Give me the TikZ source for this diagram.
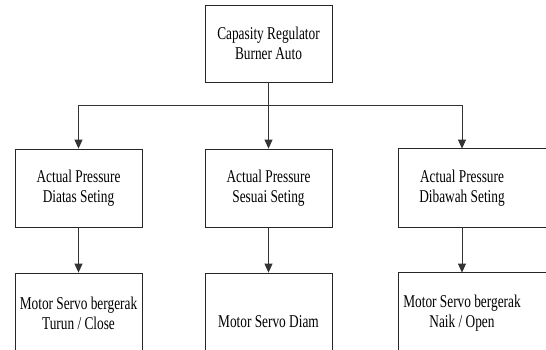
\documentclass[tikz,border=0pt]{standalone}
\usepackage{fontspec}
\setmainfont{Liberation Serif}[FakeStretch=0.74]
\usetikzlibrary{arrows.meta,calc}
\begin{document}
\begin{tikzpicture}[x=1pt,y=-1pt,
  box/.style={draw=black!85, line width=0.8pt, minimum width=127pt, align=center,
    font=\fontsize{18}{20}\selectfont, inner sep=0pt},
  openbox/.style={box, draw=none},
  conn/.style={draw=black!80, line width=0.8pt},
  arr/.style={conn, -{Triangle[length=9pt,width=8pt]}}]
\useasboundingbox (0,0) rectangle (546,349);
\clip (0,0) rectangle (546,349);
% top
\node[box, minimum height=77pt] (top) at (268.5,43.5) {Capasity Regulator\\Burner Auto};
% middle row
\node[box, minimum height=78pt] (m1) at (78.5,188) {Actual Pressure\\Diatas Seting};
\node[box, minimum height=78pt] (m2) at (268.5,188) {Actual Pressure\\Sesuai Seting};
\node[openbox, minimum height=78pt] (m3) at (462,188) {Actual Pressure\\Dibawah Seting};
\draw[box] ($(m3.north east)+(30,0)$) -- (m3.north west) -- (m3.south west) -- ($(m3.south east)+(30,0)$);
% bottom row
\node[box, minimum height=80pt] (b1) at (78.5,313) {Motor Servo bergerak\\Turun / Close};
\node[box, minimum height=98pt] (b2) at (268.5,322) {Motor Servo Diam};
\node[openbox, minimum height=80pt] (b3) at (462,313) {Motor Servo bergerak\\Naik / Open};
\draw[box] ($(b3.north east)+(30,0)$) -- (b3.north west) -- (b3.south west);
% connectors
\coordinate (bus) at (268.5,105);
\draw[conn] (top.south) -- (bus);
\draw[conn] (m1.north |- bus) -- (m3.north |- bus);
\draw[arr] (m1.north |- bus) -- (m1.north);
\draw[arr] (bus) -- (m2.north);
\draw[arr] (m3.north |- bus) -- (m3.north);
\draw[arr] (m1.south) -- (b1.north);
\draw[arr] (m2.south) -- (b2.north);
\draw[arr] (m3.south) -- (b3.north);
\end{tikzpicture}
\end{document}
